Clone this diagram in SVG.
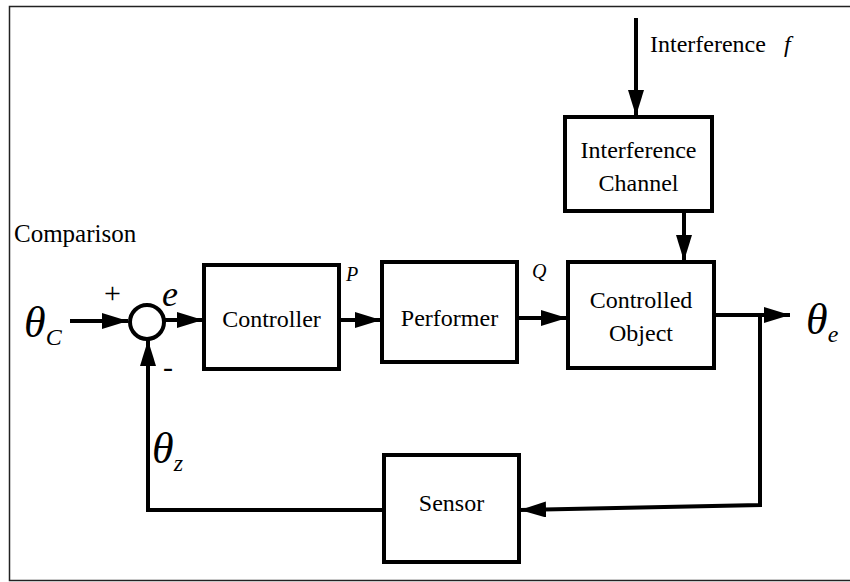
<svg xmlns="http://www.w3.org/2000/svg" width="850" height="582" viewBox="0 0 850 582">
<defs>
<style>
.box{fill:#fff;stroke:#000;stroke-width:4}
.ln{fill:none;stroke:#000;stroke-width:4}
.t{font-family:"Liberation Serif","Times New Roman",serif;font-size:24px;fill:#000}
.i{font-family:"Liberation Serif","Times New Roman",serif;font-style:italic;fill:#000}
</style>
<marker id="ah" markerUnits="userSpaceOnUse" markerWidth="28" markerHeight="18" refX="26" refY="8" orient="auto">
<path d="M0,0 L26,8 L0,16 z" fill="#000"/>
</marker>
</defs>
<rect width="850" height="582" fill="#fff"/>
<rect x="9.5" y="6.5" width="870" height="574" fill="none" stroke="#222" stroke-width="1.5"/>

<g id="connectors">
<line class="ln" x1="70" y1="321" x2="128" y2="321" marker-end="url(#ah)"/>
<line class="ln" x1="165" y1="320" x2="203" y2="320" marker-end="url(#ah)"/>
<line class="ln" x1="339" y1="320" x2="381" y2="320" marker-end="url(#ah)"/>
<line class="ln" x1="517" y1="318" x2="567" y2="318" marker-end="url(#ah)"/>
<line class="ln" x1="636" y1="18" x2="636" y2="116" marker-end="url(#ah)"/>
<line class="ln" x1="684" y1="211" x2="684" y2="261" marker-end="url(#ah)"/>
<line class="ln" x1="714" y1="315" x2="790" y2="315" marker-end="url(#ah)"/>
<polyline class="ln" points="760,315 760,505 520,510" marker-end="url(#ah)"/>
<polyline class="ln" points="384,510 148,510 148,340" marker-end="url(#ah)"/>
</g>

<g id="sum">
<circle cx="147" cy="322" r="17" fill="#fff" stroke="#000" stroke-width="4"/>
</g>

<g id="controller">
<rect class="box" x="204" y="265" width="135" height="104"/>
<text class="t" x="271.5" y="327" text-anchor="middle">Controller</text>
</g>

<g id="performer">
<rect class="box" x="382" y="262" width="135" height="100"/>
<text class="t" x="449.5" y="326" text-anchor="middle">Performer</text>
</g>

<g id="controlled-object">
<rect class="box" x="568" y="262" width="146" height="106"/>
<text class="t" x="641" y="308" text-anchor="middle">Controlled</text>
<text class="t" x="641" y="341" text-anchor="middle">Object</text>
</g>

<g id="interference-channel">
<rect class="box" x="565" y="117" width="147" height="94"/>
<text class="t" x="638.5" y="158" text-anchor="middle">Interference</text>
<text class="t" x="638.5" y="191" text-anchor="middle">Channel</text>
</g>

<g id="sensor">
<rect class="box" x="384" y="455" width="135" height="107"/>
<text class="t" x="451.5" y="511" text-anchor="middle">Sensor</text>
</g>

<g id="labels">
<text class="t" x="14" y="242" style="font-size:25px">Comparison</text>
<text class="t" x="650" y="52">Interference<tspan class="i" x="784">f</tspan></text>
<text class="t" x="104" y="303" style="font-size:30px">+</text>
<text class="i" x="162" y="306" style="font-size:36px">e</text>
<text class="t" x="163" y="377" style="font-size:30px">-</text>
<text class="i" x="346" y="281" style="font-size:20px">P</text>
<text class="i" x="532" y="278" style="font-size:20px">Q</text>
<text class="i" x="24" y="337" style="font-size:44px">θ<tspan style="font-size:24px" dy="8">C</tspan></text>
<text class="i" x="806" y="334" style="font-size:44px">θ<tspan style="font-size:24px" dy="8">e</tspan></text>
<text class="i" x="152" y="463" style="font-size:44px">θ<tspan style="font-size:24px" dy="8">z</tspan></text>
</g>
</svg>
